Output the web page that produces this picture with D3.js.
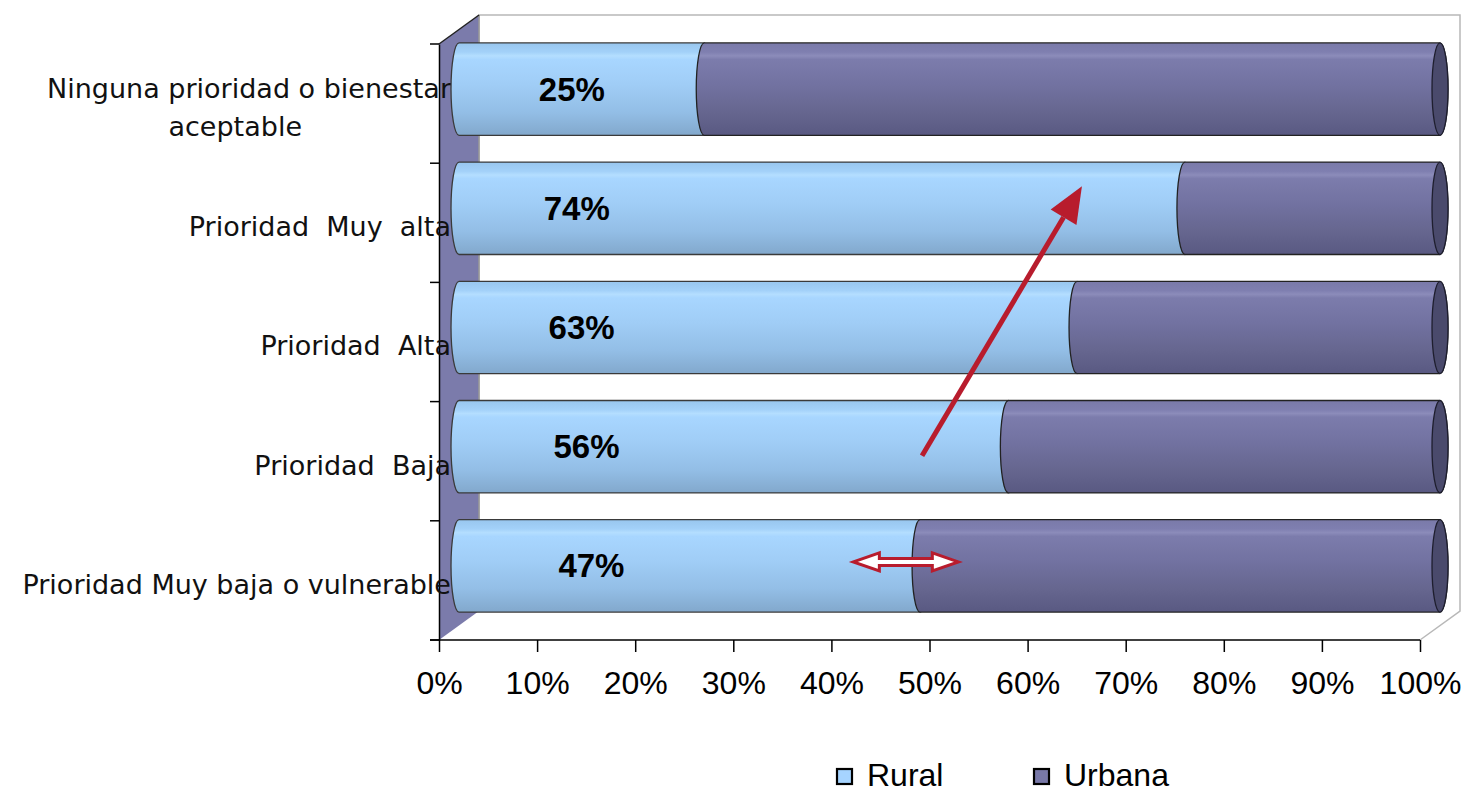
<!DOCTYPE html>
<html>
<head>
<meta charset="utf-8">
<script src="https://cdn.jsdelivr.net/npm/d3@7"></script>
<style>
  body { margin: 0; background: #fff; }
  text { white-space: pre; }
</style>
</head>
<body>
<svg id="chart" width="1476" height="793"></svg>
<script>
// data, top row first
var categories = ["Ninguna prioridad o bienestar\naceptable", "Prioridad  Muy  alta", "Prioridad  Alta", "Prioridad  Baja", "Prioridad Muy baja o vulnerable"];
var rural = [0.25, 0.74, 0.63, 0.56, 0.47];
var urbana = [0.75, 0.26, 0.37, 0.44, 0.53];
var labels = ["25%", "74%", "63%", "56%", "47%"];
var ticks = [0, 0.1, 0.2, 0.3, 0.4, 0.5, 0.6, 0.7, 0.8, 0.9, 1];
var seriesNames = ["Rural", "Urbana"];

var svg = d3.select("#chart");
var pLeft = 439, pRight = 1420, pTop = 44, pBottom = 640;
var depth = {x: 40, y: -29};
var mid = {x: depth.x / 2, y: depth.y / 2};

var x = d3.scaleLinear().domain([0, 1]).range([pLeft, pRight]);
var y = d3.scaleBand().domain(categories).range([pTop, pBottom]);
var barH = y.bandwidth() * 0.775;
var capRx = 8;

var defs = svg.append("defs");
function grad(id, stops) {
  var g = defs.append("linearGradient").attr("id", id)
    .attr("x1", 0).attr("y1", 0).attr("x2", 0).attr("y2", 1);
  stops.forEach(function(s) {
    g.append("stop").attr("offset", s[0]).attr("stop-color", s[1]);
  });
}
grad("gRural", [[0, "#98c6ee"], [0.1, "#a3d1f9"], [0.14, "#b4deff"], [0.18, "#a8d6ff"], [0.45, "#a0cdf6"], [0.75, "#93bee6"], [1, "#82a8cc"]]);
grad("gUrbana", [[0, "#7a7aa9"], [0.1, "#7f7fb0"], [0.14, "#8c8cba"], [0.18, "#7c7cac"], [0.45, "#7272a1"], [0.75, "#66668f"], [1, "#595982"]]);

// back wall
svg.append("path")
  .attr("d", "M" + (pLeft + depth.x) + "," + (pBottom + depth.y) + "V" + (pTop + depth.y) + "H" + (pRight + depth.x) + "V" + (pBottom + depth.y) + "L" + pRight + "," + pBottom)
  .attr("fill", "none").attr("stroke", "#b8b8b8").attr("stroke-width", 1.5);

// left wall
svg.append("path")
  .attr("d", "M" + pLeft + "," + pTop + "L" + (pLeft + depth.x) + "," + (pTop + depth.y) + "V" + (pBottom + depth.y) + "L" + pLeft + "," + pBottom + "Z")
  .attr("fill", "#7b7bab").attr("stroke", "none");
svg.append("line")
  .attr("x1", pLeft + depth.x).attr("x2", pLeft + depth.x)
  .attr("y1", pTop + depth.y).attr("y2", pBottom + depth.y)
  .attr("stroke", "#999").attr("stroke-width", 1.5);
svg.append("line")
  .attr("x1", pLeft).attr("y1", pTop).attr("x2", pLeft + depth.x).attr("y2", pTop + depth.y)
  .attr("stroke", "#222").attr("stroke-width", 1.5);

// axes
var yAxis = svg.append("g").attr("transform", "translate(" + pLeft + ",0)")
  .call(d3.axisLeft(y).tickFormat("").tickSizeOuter(0));
// ticks at band edges instead of centres
yAxis.selectAll(".tick").remove();
y.domain().concat([null]).forEach(function(c, i) {
  var yy = pTop + i * y.step();
  yAxis.append("line").attr("x1", -9).attr("x2", 0).attr("y1", yy).attr("y2", yy)
    .attr("stroke", "#000").attr("stroke-width", 1.5);
});
yAxis.select(".domain").attr("stroke", "#000").attr("stroke-width", 1.5);

var xAxis = svg.append("g").attr("transform", "translate(0," + pBottom + ")")
  .call(d3.axisBottom(x).tickValues(ticks).tickFormat(d3.format(".0%")).tickSize(12).tickSizeOuter(0).tickPadding(19));
xAxis.select(".domain").attr("d", "M" + (pLeft - 9) + ",0H" + pRight).attr("stroke", "#000").attr("stroke-width", 1.5);
xAxis.selectAll(".tick line").attr("stroke", "#000").attr("stroke-width", 1.5);
xAxis.selectAll(".tick text")
  .attr("font-family", "'Liberation Sans', Arial, sans-serif")
  .attr("font-size", 32).attr("fill", "#000");

// category labels
categories.forEach(function(c) {
  var lines = c.split("\n");
  var cy = y(c) + y.bandwidth() / 2 + 4;
  var t = svg.append("text")
    .attr("text-anchor", "end")
    .attr("font-family", "'DejaVu Sans', Verdana, sans-serif")
    .attr("font-size", 27).attr("fill", "#111");
  lines.forEach(function(l, i) {
    t.append("tspan")
      .attr("x", lines.length > 1 && i > 0 ? 302 : 451)
      .attr("y", cy + (i - (lines.length - 1) / 2) * 38)
      .attr("dy", "0.35em")
      .text(l);
  });
});

// cylinders
function cyl(x0, x1, cy) {
  var h = barH / 2;
  return "M" + x0 + "," + (cy - h) +
    "A" + capRx + "," + h + " 0 0 0 " + x0 + "," + (cy + h) +
    "L" + x1 + "," + (cy + h) +
    "A" + capRx + "," + h + " 0 0 0 " + x1 + "," + (cy - h) + "Z";
}

var rows = svg.append("g").selectAll("g").data(categories).join("g");
rows.each(function(c, i) {
  var g = d3.select(this);
  var cy = y(c) + y.bandwidth() / 2 + mid.y;
  var xs = [x(0) + mid.x, x(rural[i]) + mid.x, x(rural[i] + urbana[i]) + mid.x];
  g.append("path").attr("d", cyl(xs[0], xs[1], cy))
    .attr("fill", "url(#gRural)").attr("stroke", "#3a3a3a").attr("stroke-width", 1.3);
  g.append("path").attr("d", cyl(xs[1], xs[2], cy))
    .attr("fill", "url(#gUrbana)").attr("stroke", "#222").attr("stroke-width", 1.3);
  g.append("ellipse").attr("cx", xs[2]).attr("cy", cy).attr("rx", capRx).attr("ry", barH / 2)
    .attr("fill", "#4a4a6c").attr("stroke", "#1e1e2e").attr("stroke-width", 1.3);
  g.append("text")
    .attr("x", x(0.115 + i * 0.005) + mid.x).attr("y", cy)
    .attr("dy", "0.35em").attr("text-anchor", "middle")
    .attr("font-family", "'Liberation Sans', Arial, sans-serif")
    .attr("font-weight", "bold").attr("font-size", 33).attr("fill", "#000")
    .text(labels[i]);
});

// annotations
var red = "#b81c2d";
var ax0 = x(0.472) + mid.x, ay0 = y(categories[3]) + y.bandwidth() / 2 + mid.y + 9;
var ax1 = x(0.635) + mid.x, ay1 = y(categories[1]) + y.bandwidth() / 2 + mid.y - 22;
var ang = Math.atan2(ay1 - ay0, ax1 - ax0);
var headL = 36, headW = 15;
var bx = ax1 - headL * Math.cos(ang), by = ay1 - headL * Math.sin(ang);
svg.append("line").attr("x1", ax0).attr("y1", ay0).attr("x2", bx).attr("y2", by)
  .attr("stroke", red).attr("stroke-width", 5);
svg.append("path")
  .attr("d", "M" + ax1 + "," + ay1 +
    "L" + (bx + headW * Math.sin(ang)) + "," + (by - headW * Math.cos(ang)) +
    "L" + (bx - headW * Math.sin(ang)) + "," + (by + headW * Math.cos(ang)) + "Z")
  .attr("fill", red);

var dx0 = x(0.402) + mid.x, dx1 = x(0.509) + mid.x;
var dy = y(categories[4]) + y.bandwidth() / 2 + mid.y - 4;
var hl = 26, hw = 9, sw = 3.5;
svg.append("path")
  .attr("d", "M" + dx0 + "," + dy +
    "L" + (dx0 + hl) + "," + (dy - hw) + "V" + (dy - sw) + "H" + (dx1 - hl) + "V" + (dy - hw) +
    "L" + dx1 + "," + dy +
    "L" + (dx1 - hl) + "," + (dy + hw) + "V" + (dy + sw) + "H" + (dx0 + hl) + "V" + (dy + hw) + "Z")
  .attr("fill", "#fff").attr("stroke", red).attr("stroke-width", 3).attr("stroke-linejoin", "miter");

// legend
var legend = svg.append("g").attr("transform", "translate(837,769)");
var lg = legend.selectAll("g").data(seriesNames).join("g")
  .attr("transform", function(d, i) { return "translate(" + (i * 197) + ",0)"; });
lg.append("rect").attr("width", 15).attr("height", 15)
  .attr("fill", function(d, i) { return i ? "#7878a8" : "#a6d4ff"; })
  .attr("stroke", "#000").attr("stroke-width", 2.2);
lg.append("text").attr("x", 30).attr("y", 17)
  .attr("font-family", "'Liberation Sans', Arial, sans-serif")
  .attr("font-size", 32).attr("fill", "#000")
  .text(function(d) { return d; });
</script>
</body>
</html>
